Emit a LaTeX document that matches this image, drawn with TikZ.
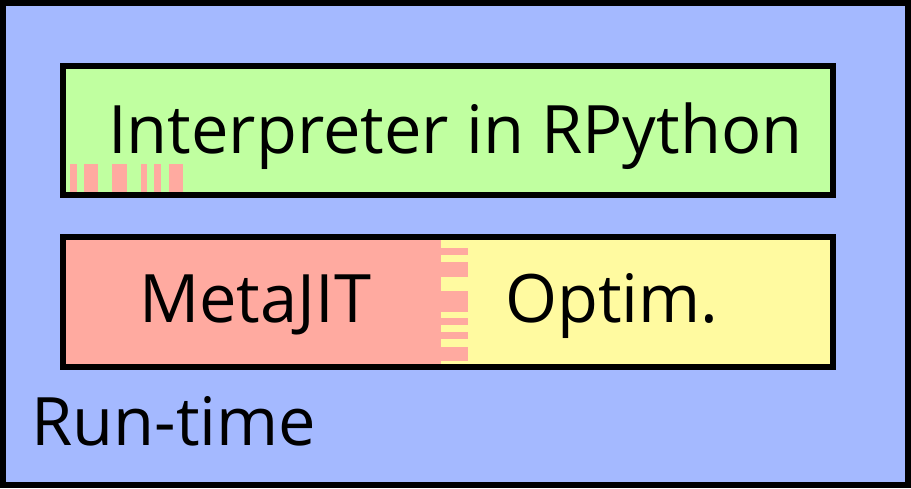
\documentclass[tikz,border=0pt]{standalone}
\usepackage{fontspec}
\setmainfont{Open Sans}
\definecolor{rtblue}{RGB}{164,185,255}
\definecolor{interpgreen}{RGB}{192,255,160}
\definecolor{jitred}{RGB}{255,170,160}
\definecolor{optyellow}{RGB}{255,250,160}
\tikzset{
  boxline/.style={line width=6pt},
  lbl/.style={anchor=base west,inner sep=0pt,font=\fontsize{66.8}{80}\selectfont}
}

\begin{document}
\begin{tikzpicture}[x=1pt,y=-1pt]
    \useasboundingbox (0,0) rectangle (911,488);
    % run-time
    \fill[rtblue] (3,3) rectangle (908,485);
    \draw[boxline] (3,3) rectangle (908,485);
    \node[lbl] (runtime) at (31,445) {Run-time};

    % interpreter
    \fill[interpgreen] (63,66) rectangle (833,195);
    \foreach \a/\b in {70/77,84/98,112/127,141/147,154/161,169/183}
      \fill[jitred] (\a,164) rectangle (\b,195);
    \draw[boxline] (63,66) rectangle (833,195);
    \node[lbl] (interp) at (108,153) {Interpreter in RPython};

    % metajit + optimizer
    \fill[jitred] (63,237) rectangle (441,367);
    \fill[optyellow] (441,237) rectangle (833,367);
    \foreach \a/\b in {248/255,262/277,291/312,318/325,332/339,347/361}
      \fill[jitred] (441,\a) rectangle (468,\b);
    \draw[boxline] (63,237) rectangle (833,367);
    \node[lbl] (metajit) at (139,322) {MetaJIT};
    \node[lbl] (optim) at (505,322) {Optim.};
  \end{tikzpicture}
\end{document}
